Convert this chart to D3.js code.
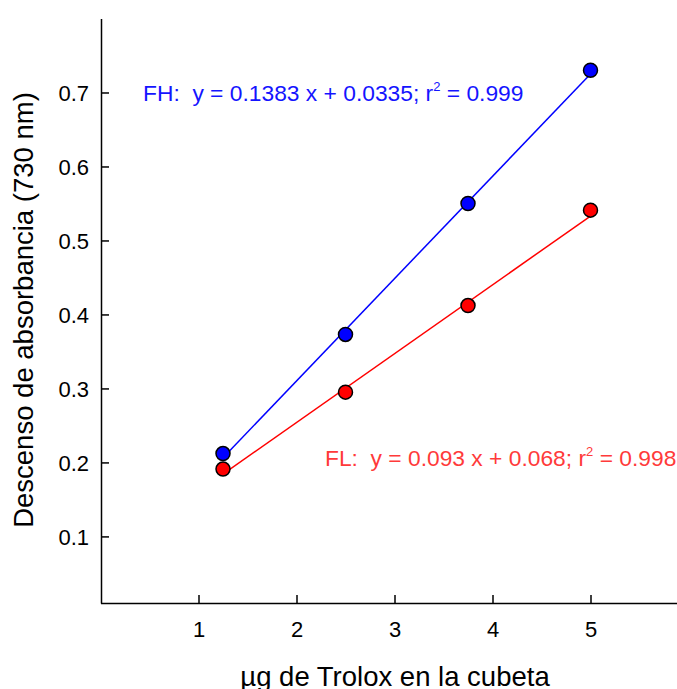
<!DOCTYPE html>
<html><head><meta charset="utf-8">
<script src="https://cdn.jsdelivr.net/npm/d3@7"></script>
<style>body{margin:0;background:#fff}svg{display:block}text{font-family:"Liberation Sans",Arial,sans-serif}</style>
</head><body><svg id="c" width="677" height="689"></svg>
<script>
const xValues = [1.25, 2.5, 3.75, 5];
const fhValues = [0.212, 0.373, 0.550, 0.730];
const flValues = [0.191, 0.295, 0.412, 0.541];
const fhFit = [0.1383, 0.0335];
const flFit = [0.093, 0.068];
const xTicks = [1, 2, 3, 4, 5];
const yTicks = [0.1, 0.2, 0.3, 0.4, 0.5, 0.6, 0.7];

const svg = d3.select("#c");
const x = d3.scaleLinear().domain([0, 6]).range([100.5, 688.5]);
const y = d3.scaleLinear().domain([0.01, 0.8]).range([603, 18.5]);

const gx = svg.append("g").attr("transform", "translate(0,603)")
  .call(d3.axisBottom(x).tickValues(xTicks).tickSizeInner(-8).tickSizeOuter(0).tickPadding(0).tickFormat(d3.format("d")));
gx.selectAll("text").attr("y", 34).attr("dy", null).style("font-size", "22px").attr("fill", "#000");
const gy = svg.append("g").attr("transform", "translate(101,0)")
  .call(d3.axisLeft(y).tickValues(yTicks).tickSizeInner(-8).tickSizeOuter(0).tickPadding(12).tickFormat(d3.format(".1f")));
gy.selectAll("text").attr("dy", "0.36em").style("font-size", "22px").attr("fill", "#000");
svg.selectAll(".domain").attr("stroke", "#000").attr("stroke-width", 1.5);
svg.selectAll(".tick line").attr("stroke", "#000").attr("stroke-width", 1.5);

function series(vals, fit, color) {
  const x0 = xValues[0], x1 = xValues[xValues.length - 1];
  svg.append("line")
    .attr("x1", x(x0)).attr("y1", y(fit[0] * x0 + fit[1]))
    .attr("x2", x(x1)).attr("y2", y(fit[0] * x1 + fit[1]))
    .attr("stroke", color).attr("stroke-width", 1.5);
  svg.append("g").selectAll("circle").data(vals).join("circle")
    .attr("cx", (d, i) => x(xValues[i])).attr("cy", d => y(d)).attr("r", 7)
    .attr("fill", color).attr("stroke", "#000").attr("stroke-width", 1.5);
}
series(flValues, flFit, "#ff0000");
series(fhValues, fhFit, "#0000ff");

function eq(tx, ty, label, fit, r2, color) {
  const t = svg.append("text").attr("x", tx).attr("y", ty).attr("fill", color).style("font-size", "22.8px")
    .attr("xml:space", "preserve");
  t.append("tspan").text(label + ":  y = " + fit[0] + " x + " + fit[1] + "; r");
  t.append("tspan").attr("dy", -10).style("font-size", "13px").text("2");
  t.append("tspan").attr("dy", 10).text(" = " + r2);
}
eq(143, 101, "FH", fhFit, "0.999", "#1414ff");
eq(325, 466, "FL", flFit, "0.998", "#ff3a3a");

svg.append("text").attr("x", 395).attr("y", 686).attr("text-anchor", "middle").style("font-size", "27.5px")
  .text("µg de Trolox en la cubeta");
svg.append("text").attr("transform", "translate(33,310) rotate(-90)").attr("text-anchor", "middle").style("font-size", "27.5px")
  .text("Descenso de absorbancia (730 nm)");
</script></body></html>
